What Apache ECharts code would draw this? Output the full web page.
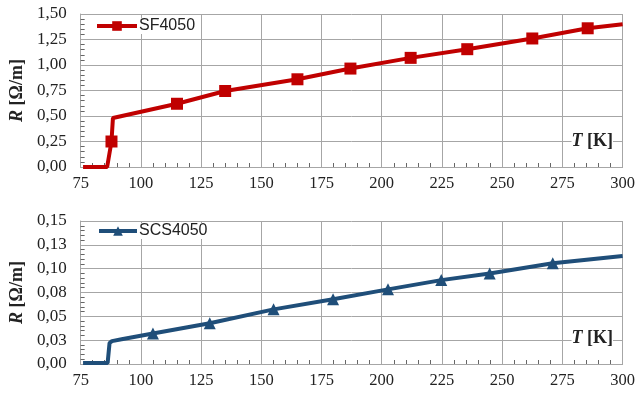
<!DOCTYPE html>
<html>
<head>
    <meta charset="utf-8">
    <title>R(T)</title>
    <script src="https://cdn.jsdelivr.net/npm/echarts@6/dist/echarts.min.js"></script>
    <style>
        html, body { margin: 0; padding: 0; background: #fff; }
        #chart { width: 638px; height: 401px; }
    </style>
</head>
<body>
<div id="chart"></div>
<script>
    // SF4050 (top panel)
    var sfT = [76, 86, 87.8, 88.4, 115, 135, 165, 187, 212, 235.5, 262.5, 285.5, 300];
    var sfR = [0, 0, 0.25, 0.48, 0.62, 0.745, 0.86, 0.965, 1.07, 1.155, 1.26, 1.36, 1.40];
    var sfMark = [0, 0, 1, 0, 1, 1, 1, 1, 1, 1, 1, 1, 0];

    // SCS4050 (bottom panel)
    var scsT = [76, 86.2, 87, 88, 92, 105, 128.6, 155.1, 179.8, 202.6, 224.7, 244.8, 271, 300];
    var scsR = [0.001, 0.001, 0.022, 0.024, 0.026, 0.032, 0.0427, 0.0573, 0.068, 0.0783, 0.088, 0.095, 0.1056, 0.1133];
    var scsMark = [0, 0, 0, 0, 0, 1, 1, 1, 1, 1, 1, 1, 1, 0];

    var topTicks = ['0,00', '0,25', '0,50', '0,75', '1,00', '1,25', '1,50'];
    var bottomTicks = ['0,00', '0,03', '0,05', '0,08', '0,10', '0,13', '0,15'];

    var red = '#C00000';
    var blue = '#1F4E79';
    var gridColor = '#A6A6A6';
    var serif = 'Liberation Serif';

    function build(ts, rs, marks, sym) {
        var out = [];
        for (var i = 0; i < ts.length; i++) {
            out.push({ value: [ts[i], rs[i]], symbol: marks[i] ? sym : 'none' });
        }
        return out;
    }

    function xAxisCfg(idx) {
        return {
            type: 'value', gridIndex: idx, min: 75, max: 300, interval: 25,
            axisLine: { show: true, lineStyle: { color: gridColor } },
            axisTick: { show: true, inside: true, length: 4, lineStyle: { color: gridColor } },
            minorTick: { show: true, splitNumber: 5, length: 4, lineStyle: { color: '#666' } },
            axisLabel: { fontFamily: serif, fontSize: 16.5, color: '#222', margin: 8 },
            splitLine: { show: true, lineStyle: { color: gridColor } }
        };
    }

    function yAxisCfg(idx, max, interval, labels) {
        return {
            type: 'value', gridIndex: idx, min: 0, max: max, interval: interval,
            axisLine: { show: true, lineStyle: { color: gridColor } },
            axisTick: { show: true, inside: true, length: 4, lineStyle: { color: gridColor } },
            minorTick: { show: true, splitNumber: 5, length: 4, lineStyle: { color: '#666' } },
            axisLabel: {
                fontFamily: serif, fontSize: 17, color: '#222', margin: 14,
                formatter: function (v) { return labels[Math.round(v / interval)]; }
            },
            splitLine: { show: true, lineStyle: { color: gridColor } },
            name: '{r|R} [Ω/m]',
            nameLocation: 'middle',
            nameGap: 54,
            nameTextStyle: {
                fontFamily: serif, fontSize: 18, fontWeight: 'bold', color: '#222',
                rich: { r: { fontFamily: serif, fontSize: 18, fontWeight: 'bold', fontStyle: 'italic', color: '#222' } }
            }
        };
    }

    var chart = echarts.init(document.getElementById('chart'), null, { renderer: 'canvas' });
    var option = {
        animation: false,
        backgroundColor: '#fff',
        grid: [
            { left: 80, right: 15, top: 14, height: 153 },
            { left: 80, right: 15, top: 221, height: 143 }
        ],
        legend: [
            {
                data: ['SF4050'], left: 95, top: 18, itemWidth: 40, itemHeight: 12, itemGap: 2,
                textStyle: { fontFamily: 'Liberation Sans', fontSize: 16, color: '#222', padding: [0, 0, 0, -3] },
                lineStyle: { width: 4 },
                backgroundColor: '#fff', padding: [0, 2, 0, 0]
            },
            {
                data: ['SCS4050'], left: 97, top: 223, itemWidth: 38, itemHeight: 12, itemGap: 2,
                textStyle: { fontFamily: 'Liberation Sans', fontSize: 16, color: '#222', padding: [0, 0, 0, -3] },
                lineStyle: { width: 4 },
                backgroundColor: '#fff', padding: [0, 2, 0, 0]
            }
        ],
        xAxis: [xAxisCfg(0), xAxisCfg(1)],
        yAxis: [
            yAxisCfg(0, 1.5, 0.25, topTicks),
            yAxisCfg(1, 0.15, 0.025, bottomTicks)
        ],
        graphic: [
            {
                type: 'text', right: 25, top: 132, z: 10,
                style: { text: '{t|T} [K]', font: 'bold 18px "Liberation Serif"', fill: '#222', backgroundColor: '#fff',
                    rich: { t: { font: 'italic bold 18px "Liberation Serif"', fill: '#222' } } }
            },
            {
                type: 'text', right: 25, top: 329, z: 10,
                style: { text: '{t|T} [K]', font: 'bold 18px "Liberation Serif"', fill: '#222', backgroundColor: '#fff',
                    rich: { t: { font: 'italic bold 18px "Liberation Serif"', fill: '#222' } } }
            }
        ],
        series: [
            {
                name: 'SF4050', type: 'line', xAxisIndex: 0, yAxisIndex: 0,
                data: build(sfT, sfR, sfMark, 'rect'),
                symbol: 'rect', symbolSize: 12, showAllSymbol: true,
                lineStyle: { color: red, width: 4 },
                itemStyle: { color: red }
            },
            {
                name: 'SCS4050', type: 'line', xAxisIndex: 1, yAxisIndex: 1,
                data: build(scsT, scsR, scsMark, 'triangle'),
                symbol: 'triangle', symbolSize: 12, showAllSymbol: true,
                lineStyle: { color: blue, width: 4 },
                itemStyle: { color: blue }
            }
        ]
    };
    chart.setOption(option);
</script>
</body>
</html>
